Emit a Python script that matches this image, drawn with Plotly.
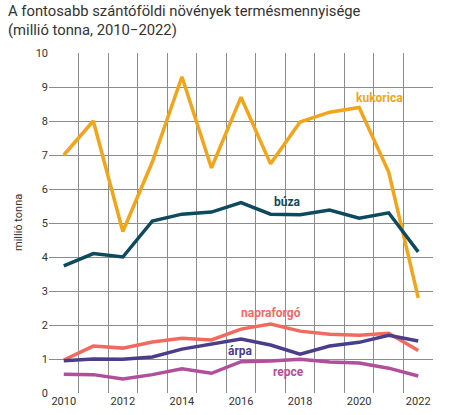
import plotly.graph_objects as go

years = list(range(2010, 2023))
kukorica = [7.0, 8.0, 4.75, 6.8, 9.3, 6.62, 8.7, 6.74, 7.97, 8.26, 8.4, 6.5, 2.8]
buza = [3.74, 4.1, 4.0, 5.06, 5.26, 5.32, 5.6, 5.26, 5.24, 5.38, 5.14, 5.3, 4.15]
napraforgo = [0.97, 1.38, 1.32, 1.5, 1.61, 1.56, 1.88, 2.03, 1.82, 1.73, 1.70, 1.76, 1.25]
arpa = [0.95, 1.0, 0.99, 1.06, 1.29, 1.43, 1.59, 1.41, 1.14, 1.38, 1.49, 1.70, 1.53]
repce = [0.55, 0.54, 0.41, 0.54, 0.71, 0.58, 0.92, 0.94, 0.99, 0.91, 0.88, 0.73, 0.50]

series = [
    ("kukorica", kukorica, "#F2A51A", 2020.68, 8.68),
    ("búza", buza, "#0E4A5E", 2017.57, 5.62),
    ("napraforgó", napraforgo, "#F26A5F", 2017.0, 2.35),
    ("árpa", arpa, "#4B3D8A", 2015.98, 1.24),
    ("repce", repce, "#B04F9B", 2017.6, 0.62),
]

W, H = 460, 415
L, R, T, B = 49, 27, 53, 22
pw, ph = W - L - R, H - T - B

fig = go.Figure()
annotations = []
for name, vals, color, lx, ly in series:
    fig.add_trace(go.Scatter(x=years, y=vals, mode="lines", name=name,
                             line=dict(color=color, width=3.5), showlegend=False))
    annotations.append(dict(x=lx, y=ly, xref="x", yref="y", text="<b>%s</b>" % name,
                            showarrow=False, font=dict(color=color, size=12, family="Roboto")))

# title
annotations.append(dict(x=(6 - L) / pw, y=1 + (T - 0) / ph, xref="paper", yref="paper",
                        xanchor="left", yanchor="top", align="left", showarrow=False,
                        text="A fontosabb szántóföldi növények termésmennyisége<br>(millió tonna, 2010−2022)",
                        font=dict(size=14.8, color="#333333", family="Roboto")))
# y-axis title
annotations.append(dict(x=(18 - L) / pw, y=0.5, xref="paper", yref="paper",
                        xanchor="center", yanchor="middle", textangle=-90, showarrow=False,
                        text="millió tonna", font=dict(size=11, color="#333333", family="Roboto")))

fig.update_layout(
    width=W, height=H,
    margin=dict(l=L, r=R, t=T, b=B, autoexpand=False),
    paper_bgcolor="white", plot_bgcolor="white",
    font=dict(family="Roboto", color="#333333", size=11),
    annotations=annotations,
)
fig.update_xaxes(range=[2009.5, 2022.5], tickvals=[2010, 2012, 2014, 2016, 2018, 2020, 2022],
                 showgrid=False, zeroline=False, ticks="", tickfont=dict(size=11, color="#333"),
                 minor=dict(tick0=2009.5, dtick=1, showgrid=True, gridcolor="#8c8c8c", gridwidth=1),
                 showline=False, automargin=False)
fig.update_yaxes(range=[0, 10], dtick=1, showgrid=True, gridcolor="#8c8c8c", gridwidth=1,
                 zeroline=False, ticks="", tickfont=dict(size=11, color="#333"), automargin=False)

fig.write_html("out.html", config={"displayModeBar": False},
               post_script="document.body.style.margin='0';document.body.style.overflow='hidden';")
